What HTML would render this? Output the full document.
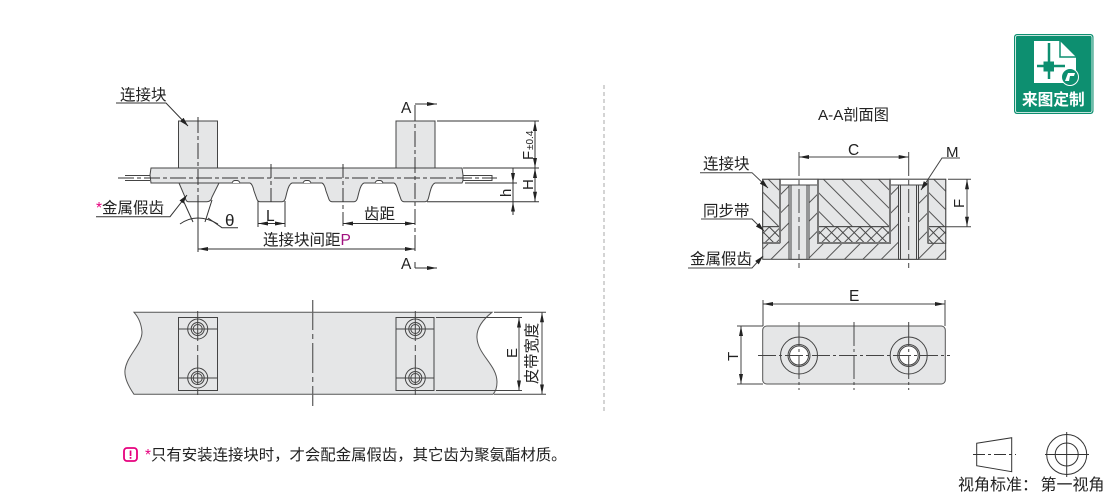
<!DOCTYPE html>
<html lang="zh">
<head>
<meta charset="utf-8">
<style>
html,body{margin:0;padding:0;background:#fff;}
svg{display:block;}
text{font-family:"Liberation Sans","Noto Sans CJK SC",sans-serif;fill:#222;}
</style>
</head>
<body>
<svg width="1110" height="495" viewBox="0 0 1110 495" xmlns="http://www.w3.org/2000/svg">
<defs>
<marker id="a" viewBox="0 0 10 4" refX="10" refY="2" markerWidth="10" markerHeight="4" orient="auto-start-reverse" markerUnits="userSpaceOnUse"><path d="M0 0L10 2L0 4Z" fill="#222"/></marker>
<marker id="b" viewBox="0 0 9 5" refX="9" refY="2.5" markerWidth="9" markerHeight="5" orient="auto" markerUnits="userSpaceOnUse"><path d="M0 0L9 2.5L0 5Z" fill="#222"/></marker>
<pattern id="h1" width="13" height="13" patternUnits="userSpaceOnUse" patternTransform="rotate(45)"><rect width="13" height="13" fill="#e5e6e7"/><path d="M0.5 0V13" stroke="#555" stroke-width="1"/></pattern>
<pattern id="h2" width="13" height="13" patternUnits="userSpaceOnUse" patternTransform="rotate(-45)"><rect width="13" height="13" fill="#e5e6e7"/><path d="M0.5 0V13" stroke="#555" stroke-width="1"/></pattern>
<pattern id="x" width="8" height="8" patternUnits="userSpaceOnUse" patternTransform="rotate(45)"><rect width="8" height="8" fill="#e5e6e7"/><path d="M0.5 0V8M0 0.5H8" stroke="#444" stroke-width="0.9"/></pattern>
</defs>

<!-- divider -->
<line x1="604" y1="85" x2="604" y2="412" stroke="#aaa" stroke-width="1" stroke-dasharray="4 3"/>

<!-- belt side view -->
<g stroke="#444" stroke-width="1" fill="#e5e6e7">
<rect x="178.5" y="121" width="39" height="47"/>
<rect x="396" y="121" width="39" height="47"/>
<path d="M125 175.500H150M125 180.500H150" fill="none"/>
<path d="M463 175.500H492V180.500H463" fill="none"/>
<path d="M151 168H462L463 175V180.500L462 183H435Q432 184 430 192L428.500 198Q427.500 201.700 425 201.700H404Q401.500 201.700 400.500 198L398 191Q396.500 184 394 183H364Q361 184 359 192L357.500 198Q356.500 201.700 354 201.700H332Q329.500 201.700 328.500 198L326 191Q324.500 184 322 183H292Q289 184 287 192L285.500 198Q284.500 201.700 282 201.700H260Q257.500 201.700 256.500 198L254 191Q252.500 184 250 183H219L212 197Q211 201.700 207 201.700H188Q186 201.700 185 197L179 183H151L150 175Z"/>
<path d="M232 183Q233 180.500 235 180.500H237Q239 180.500 240 183M303 183Q304 180.500 306 180.500H308Q310 180.500 311 183M375 183Q376 180.500 378 180.500H380Q382 180.500 383 183" fill="#fff"/>
<path d="M179 183H219" fill="none"/>
</g>
<g fill="none" stroke="#333" stroke-width="1">
<path d="M118 178H497" stroke-dasharray="16 3 4 3"/>
<path d="M198 117V252" stroke-dasharray="16 3 4 3"/>
<path d="M271 164V203" stroke-dasharray="14 3 4 3"/>
<path d="M343 164V226" stroke-dasharray="14 3 4 3"/>
<path d="M415 105V252" stroke-dasharray="16 3 4 3"/>
<path d="M258 201V227M285 201V227M198 205V252"/>
<path d="M183 200L193 222M212 200L205 222"/>
<path d="M180 224Q197 212 218 224" />
<path d="M208 218L222 227.700H238"/>
<path d="M258 223.500H285" marker-start="url(#a)" marker-end="url(#a)"/>
<path d="M343 223.500H415" marker-start="url(#a)" marker-end="url(#a)"/>
<path d="M198 249H415" marker-start="url(#a)" marker-end="url(#a)"/>
<path d="M116 103H166L188 126" marker-end="url(#b)"/>
<path d="M96 216.700H170L187 195" marker-end="url(#b)"/>
<path d="M415 104H437" marker-end="url(#a)"/>
<path d="M415 268H437" marker-end="url(#a)"/>
<path d="M415 262V268"/>
<path d="M437 121H539M463 168H539M465 183H517M427 201.700H539"/>
<path d="M535 121V168" marker-start="url(#a)" marker-end="url(#a)"/>
<path d="M535 168V201.700" marker-start="url(#a)" marker-end="url(#a)"/>
<path d="M513 168V183" marker-end="url(#a)"/>
<path d="M513 215V201.700" marker-end="url(#a)"/>
<path d="M513 183V201.700"/>
</g>
<text x="120" y="100" font-size="15.5">连接块</text>
<text x="96" y="213" font-size="15.5"><tspan fill="#e6007e">*</tspan>金属假齿</text>
<text x="225" y="226" font-size="17">θ</text>
<text x="266" y="221" font-size="15.5">L</text>
<text x="364" y="219" font-size="15.5">齿距</text>
<text x="263" y="245" font-size="15.5">连接块间距<tspan fill="#a0107e">P</tspan></text>
<text x="401" y="113" font-size="15.5">A</text>
<text x="401" y="269" font-size="15.5">A</text>
<text transform="translate(533,160) rotate(-90)" font-size="15">F</text>
<text transform="translate(533,150) rotate(-90)" font-size="10">±0.4</text>
<text transform="translate(533,190) rotate(-90)" font-size="15">H</text>
<text transform="translate(511,197) rotate(-90)" font-size="15">h</text>

<!-- belt top view -->
<path d="M134 312.300H492Q476 325 477 338C478 355 497 365 497 382Q497 390 493 394.300H134Q124 380 125 370C127 355 142 345 142 332Q141 320 134 312.300Z" fill="#e5e6e7" stroke="#555" stroke-width="1"/>
<g fill="none" stroke="#444" stroke-width="1">
<rect x="178.500" y="317.500" width="39" height="73"/>
<rect x="396" y="317.500" width="38" height="73"/>
<path d="M197.700 311V399M415.300 311V399" stroke-dasharray="30 4 6 4"/>
<path d="M312.700 300V406" stroke="#666" stroke-width="1.300" stroke-dasharray="30 4 5 4"/>
<path d="M178 329H217M178 378H217M396 329H434M396 378H434"/>
<circle cx="197.700" cy="329" r="10"/><circle cx="197.700" cy="329" r="6.500"/><circle cx="197.700" cy="329" r="4.500"/>
<circle cx="197.700" cy="378" r="10"/><circle cx="197.700" cy="378" r="6.500"/><circle cx="197.700" cy="378" r="4.500"/>
<circle cx="415.300" cy="329" r="10"/><circle cx="415.300" cy="329" r="6.500"/><circle cx="415.300" cy="329" r="4.500"/>
<circle cx="415.300" cy="378" r="10"/><circle cx="415.300" cy="378" r="6.500"/><circle cx="415.300" cy="378" r="4.500"/>
<path d="M436 317.500H522M436 390.500H522M494 312.300H546M494 394.300H546"/>
<path d="M519 317.500V390.500" marker-start="url(#a)" marker-end="url(#a)"/>
<path d="M542 312.300V394.300" marker-start="url(#a)" marker-end="url(#a)"/>
</g>
<text transform="translate(517,358) rotate(-90)" font-size="15">E</text>
<text transform="translate(537,384) rotate(-90)" font-size="15.3">皮带宽度</text>

<!-- section -->
<text x="818" y="120" font-size="15.2">A-A剖面图</text>
<g stroke="#444" stroke-width="1">
<rect x="762.700" y="179.300" width="183" height="80" fill="url(#h1)"/>
<rect x="818" y="179.300" width="72" height="47.400" fill="url(#h2)"/>
<rect x="762.700" y="179.300" width="17" height="47.400" fill="url(#h2)"/>
<rect x="928" y="179.300" width="17.700" height="47.400" fill="url(#h2)"/>
<rect x="762.700" y="226.700" width="17" height="16.600" fill="url(#x)"/>
<rect x="818" y="226.700" width="72" height="16.600" fill="url(#x)"/>
<rect x="928" y="226.700" width="17.700" height="16.600" fill="url(#x)"/>
<path d="M780 179.300H818V185H780Z" fill="#fff"/>
<path d="M890 179.300H928V185H890Z" fill="#fff"/>
<rect x="789" y="185" width="20" height="74.300" fill="#e5e6e7"/>
<rect x="898.500" y="185" width="20" height="74.300" fill="#e5e6e7"/>
</g>
<g fill="none" stroke="#777" stroke-width="2">
<path d="M780 180V243M818 180V243H890V180M928 180V243M780 243H763"/>
</g>
<g fill="none" stroke="#444" stroke-width="1">
<path d="M791 185V259M807 185V259M900.500 185V259M916.500 185V259"/>
<path d="M799 152V268M908.700 152V268" stroke-dasharray="24 4 5 4"/>
<path d="M799 157H908.700" marker-start="url(#a)" marker-end="url(#a)"/>
<path d="M700 172.700H752L768 188" marker-end="url(#b)"/>
<path d="M701 219H752L764 231" marker-end="url(#b)"/>
<path d="M688 268H752L763 256" marker-end="url(#b)"/>
<path d="M960 158H942L921 190" marker-end="url(#b)"/>
<path d="M948 179.300H971M946 226.700H971"/>
<path d="M967 179.300V226.700" marker-start="url(#a)" marker-end="url(#a)"/>
</g>
<text x="703" y="169" font-size="15.5">连接块</text>
<text x="703" y="216" font-size="15.5">同步带</text>
<text x="690" y="264" font-size="15.5">金属假齿</text>
<text x="848" y="155" font-size="15.5">C</text>
<text x="946" y="157" font-size="15">M</text>
<text transform="translate(964,208) rotate(-90)" font-size="15">F</text>

<!-- bottom view -->
<rect x="762.700" y="326" width="182.600" height="58" rx="4" fill="#e5e6e7" stroke="#555"/>
<g fill="none" stroke="#444" stroke-width="1">
<circle cx="799" cy="355.500" r="18.500"/><circle cx="799" cy="355.500" r="11" fill="#e5e6e7"/><circle cx="799" cy="355.500" r="9.500" fill="#fff"/>
<circle cx="908.700" cy="355.500" r="18.500"/><circle cx="908.700" cy="355.500" r="11" fill="#e5e6e7"/><circle cx="908.700" cy="355.500" r="9.500" fill="#fff"/>
<path d="M758 355.500H950" stroke-dasharray="18 3 3 3"/>
<path d="M799 322V390M854 322V390M908.700 322V390" stroke-dasharray="24 3 3 3"/>
<path d="M763 300V326M945 300V326"/>
<path d="M763 304H945" marker-start="url(#a)" marker-end="url(#a)"/>
<path d="M737 326H763M737 384H763"/>
<path d="M741 326V384" marker-start="url(#a)" marker-end="url(#a)"/>
</g>
<text x="849" y="301" font-size="15.5">E</text>
<text transform="translate(738,361) rotate(-90)" font-size="15">T</text>

<!-- badge -->
<rect x="1014" y="34" width="79.500" height="80" rx="3" fill="#0d8f70"/>
<rect x="1015.500" y="35.500" width="76.500" height="77" rx="2" fill="none" stroke="#fff" stroke-width="0.800"/>
<path d="M1034 41H1060L1076 57V83H1034Z" fill="#fff"/>
<path d="M1060 41V57H1076" fill="none" stroke="#0d8f70" stroke-width="1.500"/>
<path d="M1049 43V79M1037 66H1065" stroke="#0d8f70" stroke-width="2.500"/>
<rect x="1043.500" y="61.500" width="10.500" height="10" fill="#0d8f70"/>
<circle cx="1070" cy="77" r="8.500" fill="#0d8f70" stroke="#fff" stroke-width="1"/>
<path d="M1065 81L1068 73H1075L1074 76H1070L1069 81Z" fill="#fff"/>
<text x="1022" y="105" font-size="15.7" font-weight="700" style="fill:#fff">来图定制</text>

<!-- note -->
<rect x="124" y="448" width="13" height="13" rx="3" fill="none" stroke="#e6007e" stroke-width="1.800"/>
<rect x="129.700" y="450.500" width="1.700" height="5.500" fill="#e6007e"/>
<rect x="129.700" y="457" width="1.700" height="1.800" fill="#e6007e"/>
<text x="145" y="460" font-size="15.4"><tspan fill="#e6007e">*</tspan>只有安装连接块时，才会配金属假齿，其它齿为聚氨酯材质。</text>

<!-- projection -->
<g fill="none" stroke="#333" stroke-width="1">
<path d="M976.700 443.300L1011.700 437.700V471.700L976.700 465.700Z"/>
<path d="M973 454.500H1016" stroke-dasharray="12 3 3 3"/>
<circle cx="1066.700" cy="454.500" r="20"/><circle cx="1066.700" cy="454.500" r="11.500"/>
<path d="M1045 454.500H1089M1066.700 432V477" />
</g>
<text x="958" y="490" font-size="16">视角标准：</text>
<text x="1040.500" y="490" font-size="16">第一视角</text>
</svg>
</body>
</html>
